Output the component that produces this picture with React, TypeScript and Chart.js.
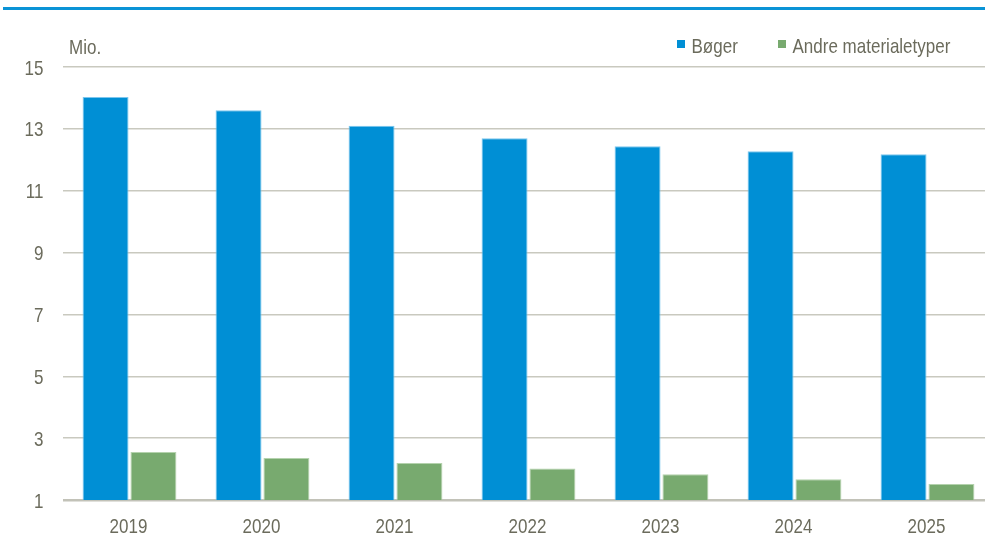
import React, { useEffect, useRef } from "react";
import { Chart, registerables } from "chart.js";

Chart.register(...registerables);

const years = ["2019", "2020", "2021", "2022", "2023", "2024", "2025"];
const boger = [14.03, 13.6, 13.1, 12.7, 12.44, 12.28, 12.18];
const andre = [2.55, 2.36, 2.2, 2.02, 1.83, 1.67, 1.52];
const seriesNames = ["Bøger", "Andre materialetyper"];
const unitLabel = "Mio.";
const yTicks = [1, 3, 5, 7, 9, 11, 13, 15];

const BLUE = "#008fd5";
const GREEN = "#78aa6f";
const TEXT = "#6b6b5c";
const FONT = "'Liberation Sans', Arial, sans-serif";
const FONT_SIZE = 21;
const SX = 0.81; // narrow (condensed) look of the reference typeface

const narrowTextPlugin = {
  id: "narrowText",
  afterDraw(chart: any) {
    const ctx: CanvasRenderingContext2D = chart.ctx;
    const xs = chart.scales.x;
    const ys = chart.scales.y;
    const draw = (text: string, x: number, y: number, align: CanvasTextAlign) => {
      ctx.save();
      ctx.translate(x, y);
      ctx.scale(SX, 1);
      ctx.textAlign = align;
      ctx.textBaseline = "alphabetic";
      ctx.fillText(text, 0, 0);
      ctx.restore();
    };
    ctx.save();
    ctx.fillStyle = TEXT;
    ctx.font = `${FONT_SIZE}px ${FONT}`;
    years.forEach((yr, i) => draw(yr, xs.getPixelForValue(i) - 1, 533, "center"));
    yTicks.forEach((v) => draw(String(v), 43.5, ys.getPixelForValue(v) + 7.5, "right"));
    draw(unitLabel, 69, 54, "left");
    // legend
    ctx.fillStyle = BLUE;
    ctx.fillRect(677, 40, 8, 8);
    ctx.fillStyle = GREEN;
    ctx.fillRect(778, 40, 8, 8);
    ctx.fillStyle = TEXT;
    draw(seriesNames[0], 691.5, 53, "left");
    draw(seriesNames[1], 792.5, 53, "left");
    ctx.restore();
  },
};

export default function App() {
  const ref = useRef<HTMLCanvasElement | null>(null);

  useEffect(() => {
    if (!ref.current) return;
    const chart = new Chart(ref.current, {
      type: "bar",
      data: {
        labels: years,
        datasets: [
          {
            label: seriesNames[0],
            data: boger,
            backgroundColor: BLUE,
            borderColor: "#7cc6ee",
            borderWidth: { top: 1, left: 1, right: 1, bottom: 0 },
            categoryPercentage: 0.72,
            barPercentage: 0.96,
          },
          {
            label: seriesNames[1],
            data: andre,
            backgroundColor: GREEN,
            borderColor: "#b4d2ad",
            borderWidth: { top: 1, left: 1, right: 1, bottom: 0 },
            categoryPercentage: 0.72,
            barPercentage: 0.96,
          },
        ],
      },
      options: {
        animation: false,
        responsive: false,
        maintainAspectRatio: false,
        layout: { padding: { left: 0, right: 0, top: 67, bottom: 0 } },
        plugins: {
          legend: { display: false },
          tooltip: { enabled: false },
        },
        scales: {
          x: {
            grid: { display: false, drawTicks: false },
            border: { display: false },
            ticks: { display: false },
            afterFit: (s: any) => {
              s.height = 39;
            },
          },
          y: {
            min: 1,
            max: 15,
            afterBuildTicks: (s: any) => {
              s.ticks = yTicks.map((v) => ({ value: v }));
            },
            grid: {
              drawTicks: false,
              color: (ctx: any) => (ctx.tick && ctx.tick.value === 1 ? "#c2c2b8" : "#c9c9bf"),
              lineWidth: (ctx: any) => (ctx.tick && ctx.tick.value === 1 ? 2.5 : 1.5),
            },
            border: { display: false },
            ticks: { display: false },
            afterFit: (s: any) => {
              s.width = 63;
            },
          },
        },
      },
      plugins: [narrowTextPlugin],
    });
    return () => chart.destroy();
  }, []);

  return (
    <div
      style={{
        position: "fixed",
        left: 0,
        top: 0,
        width: 985,
        height: 539,
        overflow: "hidden",
        background: "#fff",
      }}
    >
      <div
        style={{
          position: "absolute",
          left: 3,
          top: 7,
          width: 982,
          height: 3,
          background: "#0a93d6",
        }}
      />
      <canvas
        ref={ref}
        width={994}
        height={539}
        style={{ position: "absolute", left: 0, top: 0, width: 994, height: 539 }}
      />
    </div>
  );
}
